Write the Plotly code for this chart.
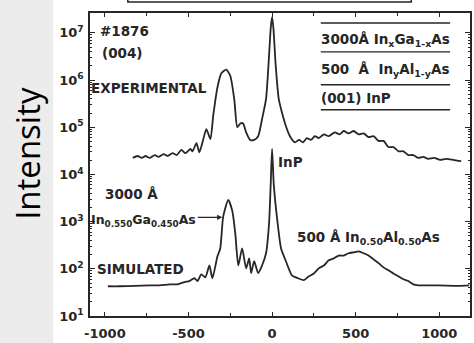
import plotly.graph_objects as go

# ---- data ----
exp_x = [-833, -804, -780, -756, -732, -702, -679, -649, -625, -595, -571, -542, -518, -488, -476, -452,
         -435, -411, -393, -369, -351, -327, -304, -274, -250, -226, -208, -190, -173, -155, -131, -107,
         -83, -60, -36, -20, -8, 0, 8, 22, 40, 60, 83, 107, 137, 161, 185, 208, 232, 256, 280, 310, 339,
         375, 405, 429, 458, 488, 518, 548, 577, 607, 637, 667, 696, 726, 756, 786, 815, 845, 875, 905,
         934, 970, 1006, 1042, 1083, 1131]
exp_log10 = [4.35, 4.39, 4.35, 4.39, 4.35, 4.41, 4.37, 4.43, 4.39, 4.45, 4.41, 4.52, 4.45, 4.54, 4.49, 4.66,
             4.47, 4.75, 4.96, 4.75, 5.27, 5.84, 6.14, 6.22, 6.09, 5.59, 5.00, 5.08, 5.08, 4.89, 4.73, 4.73,
             4.81, 5.17, 5.60, 6.40, 7.10, 7.33, 7.10, 6.30, 5.60, 5.30, 5.02, 4.81, 4.68, 4.73, 4.68, 4.77,
             4.73, 4.81, 4.77, 4.85, 4.81, 4.89, 4.85, 4.92, 4.87, 4.92, 4.85, 4.87, 4.79, 4.81, 4.71, 4.71,
             4.58, 4.58, 4.49, 4.49, 4.41, 4.41, 4.35, 4.37, 4.33, 4.35, 4.31, 4.33, 4.31, 4.28]

sim_x = [-982, -911, -821, -732, -673, -613, -565, -524, -494, -464, -446, -423, -399, -375, -357, -327,
         -310, -292, -262, -238, -220, -202, -179, -155, -137, -125, -107, -83, -60, -36, -18, -8, 0, 10,
         30, 54, 83, 119, 155, 190, 220, 250, 280, 310, 339, 369, 399, 429, 458, 488, 518, 548, 577, 607,
         637, 667, 696, 726, 756, 786, 815, 845, 875, 994, 1113, 1180]
sim_log10 = [1.63, 1.63, 1.64, 1.65, 1.65, 1.67, 1.67, 1.72, 1.74, 1.80, 1.74, 1.88, 1.82, 2.07, 1.80, 2.26,
             2.43, 3.11, 3.46, 3.23, 2.75, 2.07, 2.43, 2.01, 2.22, 1.91, 2.16, 1.91, 2.07, 2.33, 2.96, 3.80,
             4.54, 3.80, 3.07, 2.43, 2.16, 1.86, 1.80, 1.76, 1.84, 1.90, 2.01, 2.07, 2.18, 2.22, 2.28, 2.28,
             2.33, 2.35, 2.37, 2.33, 2.28, 2.20, 2.12, 2.03, 1.97, 1.90, 1.84, 1.78, 1.74, 1.67, 1.65, 1.65,
             1.64, 1.65]

x_tick_vals = [-1000, -500, 0, 500, 1000]
x_tick_text = ["-1000", "-500", "0", "500", "1000"]
y_tick_exps = [1, 2, 3, 4, 5, 6, 7]

exp_y = [10 ** v for v in exp_log10]
sim_y = [10 ** v for v in sim_log10]

# ---- layout geometry (pixels) ----
W, H = 474, 343
L, R, T, B = 90, 2, 13, 26
PW, PH = W - L - R, H - T - B


def px(xp):
    return (xp - L) / PW


def py(yp):
    return (H - B - yp) / PH


INK = "#262626"
FONT = "DejaVu Sans"

fig = go.Figure()
for xs, ys in ((exp_x, exp_y), (sim_x, sim_y)):
    fig.add_trace(go.Scatter(x=xs, y=ys, mode="lines",
                             line=dict(color=INK, width=1.8, shape="spline", smoothing=0.6),
                             showlegend=False, hoverinfo="skip"))

minor_y = [m * 10 ** e for e in range(1, 7) for m in range(2, 10)]
tf = dict(family=FONT, size=13, color=INK, weight="bold")

fig.update_xaxes(range=[-1089, 1184], tickvals=x_tick_vals, ticktext=x_tick_text,
                 ticks="inside", ticklen=4, tickwidth=1.3, tickcolor=INK, ticklabelstandoff=5,
                 minor=dict(tickvals=[-750, -250, 250, 750], ticks="inside", ticklen=3, tickcolor=INK),
                 showline=True, linecolor=INK, linewidth=1.6, mirror="ticks", showgrid=False,
                 zeroline=False, tickfont=tf)
fig.update_yaxes(type="log", range=[1, 7.42],
                 tickvals=[10 ** e for e in y_tick_exps],
                 ticktext=["10<sup>%d</sup>" % e for e in y_tick_exps],
                 ticks="inside", ticklen=5, tickwidth=1.3, tickcolor=INK, ticklabelstandoff=2,
                 minor=dict(tickvals=minor_y, ticks="inside", ticklen=2.5, tickcolor=INK),
                 showline=True, linecolor=INK, linewidth=1.6, mirror="ticks", showgrid=False,
                 zeroline=False, tickfont=tf)

shapes = [
    # white scanned-figure background
    dict(type="rect", xref="paper", yref="paper", x0=px(53), x1=px(W + 5), y0=py(H + 5), y1=py(-5),
         fillcolor="white", line=dict(width=0), layer="below"),
    # top (cut-off) box
    dict(type="rect", xref="paper", yref="paper", x0=px(128), x1=px(413), y0=py(2), y1=py(-8),
         line=dict(color=INK, width=1.5), fillcolor="rgba(0,0,0,0)"),
]
for yl in (23, 52, 85, 110):
    shapes.append(dict(type="line", xref="paper", yref="paper", x0=px(322), x1=px(452),
                       y0=py(yl), y1=py(yl), line=dict(color=INK, width=1.4)))


def ann(text, xp, yp, xanchor="left", size=13.5):
    return dict(text="<b>" + text + "</b>", x=px(xp), y=py(yp), xref="paper", yref="paper",
                xanchor=xanchor, yanchor="middle", showarrow=False,
                font=dict(family=FONT, size=size, color=INK))


annotations = [
    ann("#1876", 98, 31),
    ann("(004)", 100, 53),
    ann("EXPERIMENTAL", 89, 88),
    ann("3000Å In<sub>x</sub>Ga<sub>1-x</sub>As", 320, 40),
    ann("500  Å  In<sub>y</sub>Al<sub>1-y</sub>As", 320, 70),
    ann("(001) InP", 320, 98),
    ann("3000 Å", 103, 195),
    ann("In<sub>0.550</sub>Ga<sub>0.450</sub>As", 89, 221, size=12.5),
    ann("SIMULATED", 95, 270),
    ann("InP", 277, 162),
    ann("500 Å In<sub>0.50</sub>Al<sub>0.50</sub>As", 296, 239),
    dict(text="", x=px(223), y=py(218), xref="paper", yref="paper", ax=-26, ay=0, showarrow=True,
         arrowhead=2, arrowsize=0.8, arrowwidth=1.3, arrowcolor=INK),
    dict(text="Intensity", x=px(27), y=py(154), xref="paper", yref="paper", textangle=-90,
         showarrow=False, xanchor="center", yanchor="middle",
         font=dict(family="Open Sans", size=33, color="black")),
]

fig.update_layout(width=W, height=H, margin=dict(l=L, r=R, t=T, b=B),
                  paper_bgcolor="#ececec", plot_bgcolor="white",
                  shapes=shapes, annotations=annotations)

fig.write_html("out.html")
